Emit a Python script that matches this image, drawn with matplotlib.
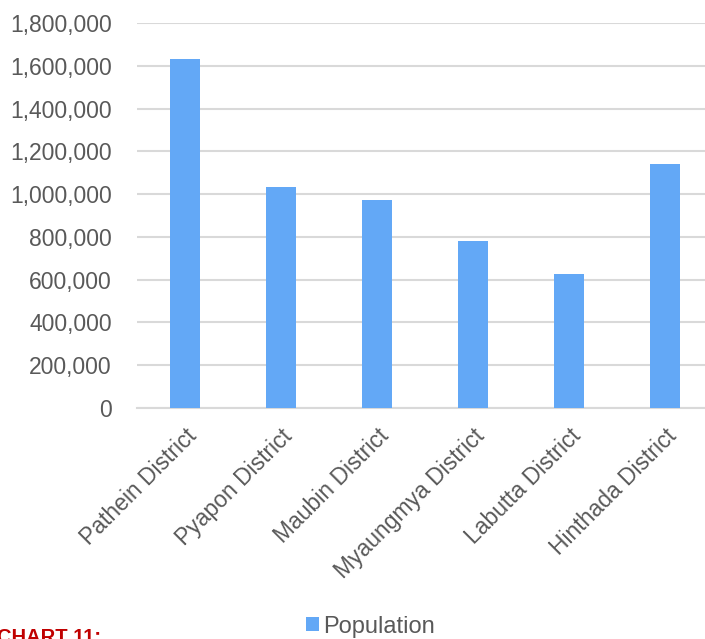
import matplotlib.pyplot as plt
from matplotlib.ticker import FuncFormatter, MultipleLocator

# district populations
districts = ["Pathein District", "Pyapon District", "Maubin District",
             "Myaungmya District", "Labutta District", "Hinthada District"]
population = [1630000, 1034000, 974000, 780000, 626500, 1139000]

BAR_COLOR = "#63A8F6"
GRID_COLOR = "#D9D9D9"
TEXT_COLOR = "#595959"

plt.rcParams["font.family"] = ["Liberation Sans", "DejaVu Sans"]

fig = plt.figure(figsize=(7.05, 6.39), dpi=100)
ax = fig.add_axes([137 / 705, (639 - 408) / 639, 576 / 705, 385 / 639])

x = range(len(districts))
ax.bar(x, population, width=0.31, color=BAR_COLOR, label="Population", zorder=3)

ax.set_xlim(-0.5, len(districts) - 0.5)
ax.set_ylim(0, 1800000)
ax.yaxis.set_major_locator(MultipleLocator(200000))
ax.yaxis.set_major_formatter(FuncFormatter(lambda v, _: f"{int(v):,}"))
ax.grid(axis="y", color=GRID_COLOR, linewidth=1.5, zorder=0)

for side in ["top", "right", "left"]:
    ax.spines[side].set_visible(False)
ax.spines["bottom"].set_color(GRID_COLOR)
ax.spines["bottom"].set_linewidth(1.5)

ax.set_xticks(list(x))
ax.set_xticklabels(districts, rotation=45, ha="right", va="top",
                   rotation_mode="anchor")
ax.tick_params(axis="both", length=0, labelsize=16.5, labelcolor=TEXT_COLOR)
ax.tick_params(axis="y", pad=18)
ax.tick_params(axis="x", pad=12)

fig.legend(loc="lower left", bbox_to_anchor=(297 / 705, -8 / 639),
           frameon=False, fontsize=17, labelcolor=TEXT_COLOR,
           handlelength=0.55, handleheight=0.55, handletextpad=0.15,
           borderaxespad=0)

fig.text(-3 / 705, -4 / 639, "CHART 11:", color="#C00000",
         fontsize=14.5, fontweight="bold", va="baseline", ha="left")

fig.savefig("out.png", dpi=100)
